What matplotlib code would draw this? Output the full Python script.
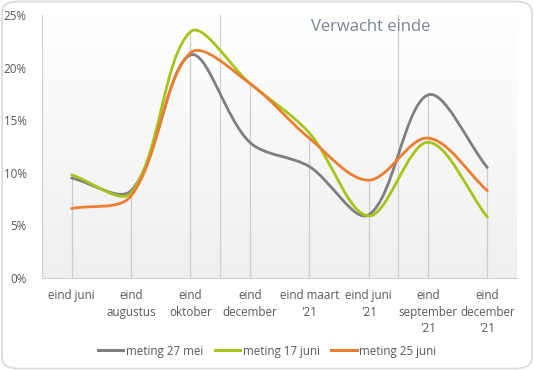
import numpy as np
import matplotlib
matplotlib.use("Agg")
import matplotlib.pyplot as plt
from matplotlib.path import Path
from matplotlib.patches import PathPatch, FancyBboxPatch
from matplotlib.lines import Line2D

categories = ["eind juni", "eind\naugustus", "eind\noktober", "eind\ndecember",
              "eind maart\n'21", "eind juni\n'21", "eind\nseptember\n'21", "eind\ndecember\n'21"]
meting_27_mei = [9.5, 8.3, 21.2, 12.9, 10.6, 6.0, 17.4, 10.5]
meting_17_juni = [9.8, 8.1, 23.4, 18.5, 13.8, 5.9, 12.9, 5.8]
meting_25_juni = [6.6, 7.8, 21.4, 18.5, 13.3, 9.3, 13.3, 8.3]
series_names = ["meting 27 mei", "meting 17 juni", "meting 25 juni"]
colors = ["#7f7f7f", "#a5c51a", "#ed7d31"]

plt.rcParams["font.family"] = ["Open Sans", "DejaVu Sans"]
text_color = "#595959"

# axes box in pixels (left, right, top, bottom)
AX_L, AX_R, AX_T, AX_B = 42, 517, 15, 278


def smooth_path(xs, ys, sx, sy, t=1 / 3):
    # Excel-like smoothing: chord-length weighted cardinal spline as cubic Beziers;
    # sx, sy scale data units to pixels so chord lengths are measured on screen
    pts = np.column_stack([xs, ys]).astype(float)
    scr = pts * [sx, sy]
    n = len(pts)
    before, after = [], []
    for i in range(n):
        i0, i2 = max(i - 1, 0), min(i + 1, n - 1)
        d01 = np.linalg.norm(scr[i] - scr[i0])
        d12 = np.linalg.norm(scr[i2] - scr[i])
        tot = d01 + d12
        tan = pts[i2] - pts[i0]
        before.append(pts[i] - t * d01 / tot * tan)
        after.append(pts[i] + t * d12 / tot * tan)
    verts = [pts[0]]
    codes = [Path.MOVETO]
    for i in range(n - 1):
        verts += [after[i], before[i + 1], pts[i + 1]]
        codes += [Path.CURVE4] * 3
    return Path(verts, codes)


fig = plt.figure(figsize=(5.34, 3.70), dpi=100)
fig.patch.set_facecolor("white")
border = FancyBboxPatch((0.004, 0.004), 0.992, 0.992, boxstyle="round,pad=0,rounding_size=0.03",
                        transform=fig.transFigure, facecolor="none", edgecolor="#d9d9d9",
                        linewidth=1.2, zorder=5)
fig.patches.append(border)

ax = fig.add_axes([AX_L / 534, 1 - AX_B / 370, (AX_R - AX_L) / 534, (AX_B - AX_T) / 370])
n = len(categories)
x = np.arange(n)
ymax = 25

# gradient background
grad = np.linspace(0.0, 1.0, 256).reshape(-1, 1)
cmap = matplotlib.colors.LinearSegmentedColormap.from_list("g", ["#efefef", "#ffffff"])
ax.imshow(grad, extent=(-0.5, n - 0.5, 0, ymax), aspect="auto", origin="lower", cmap=cmap, zorder=0)
ax.set_xlim(-0.5, n - 0.5)
ax.set_ylim(0, ymax)

# vertical gridlines every 3 categories
for b in np.arange(-0.5, n - 0.5, 3):
    ax.axvline(b, color="#d0d0d0", linewidth=0.9, zorder=1)

# drop lines
all_series = [meting_27_mei, meting_17_juni, meting_25_juni]
tops = np.max(np.array(all_series), axis=0)
ax.vlines(x, 0, tops, color="#cccccc", linewidth=0.9, zorder=1)

sx = (AX_R - AX_L) / n
sy = (AX_B - AX_T) / ymax
for vals, c in zip(all_series, colors):
    patch = PathPatch(smooth_path(x, vals, sx, sy), facecolor="none", edgecolor=c, linewidth=2.0,
                      capstyle="round", zorder=3)
    ax.add_patch(patch)

ax.set_xticks(x)
ax.set_xticklabels(categories, color=text_color, fontsize=8.4, linespacing=1.35)
ax.set_yticks(np.arange(0, 26, 5))
ax.set_yticklabels([f"{v}%" for v in range(0, 26, 5)], color=text_color, fontsize=8.4)
ax.tick_params(axis="both", length=0, pad=8)
ax.tick_params(axis="y", pad=11)
for side in ["top", "right", "left"]:
    ax.spines[side].set_visible(False)
ax.spines["bottom"].set_color("#d0d0d0")

ax.text((371 - AX_L) / (AX_R - AX_L), 0.955, "Verwacht einde", transform=ax.transAxes,
        ha="center", va="center", fontsize=12, color="#7a8594")

handles = [Line2D([], [], color=c, linewidth=2.2) for c in colors]
fig.legend(handles, series_names, loc="center", bbox_to_anchor=(0.5, 1 - 351 / 370), ncol=3,
           frameon=False, fontsize=8.4, labelcolor=text_color, handlelength=2.2,
           handletextpad=0.2, columnspacing=1.0)

fig.savefig("out.png", dpi=100)
